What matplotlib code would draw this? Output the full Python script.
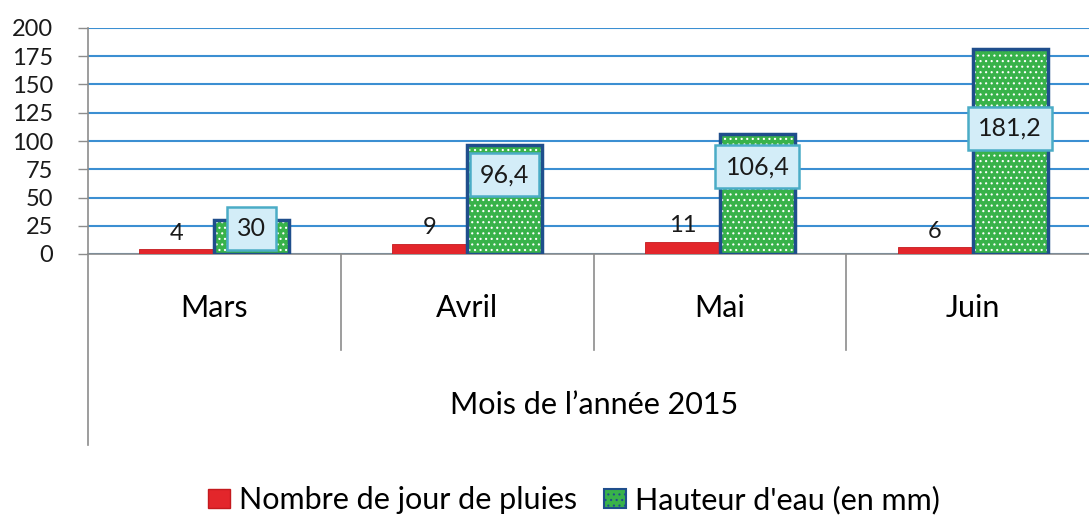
import numpy as np
import matplotlib
matplotlib.use("Agg")
import matplotlib.pyplot as plt
from matplotlib.patches import Patch

# data
months = ["Mars", "Avril", "Mai", "Juin"]
jours_pluie = [4, 9, 11, 6]
hauteur_eau = [30, 96.4, 106.4, 181.2]
hauteur_labels = ["30", "96,4", "106,4", "181,2"]
label_pos = [23, 70, 77, 111]   # where the Excel labels were dragged to
yticks = [0, 25, 50, 75, 100, 125, 150, 175, 200]

plt.rcParams['font.family'] = ['Lato', 'DejaVu Sans']
plt.rcParams['hatch.linewidth'] = 0.8

red = '#e3262b'
green = '#38b24a'
navy = '#1f4e8c'
grid_blue = '#3b8fd2'
grey = '#8c8c8c'

fig = plt.figure(figsize=(10.89, 5.15), dpi=100)
ax = fig.add_axes([88/1089, 1 - 254/515, 1011/1089, 226/515])

x = np.arange(len(months))
w = 0.297

ax.bar(x - w/2, jours_pluie, w, color=red, edgecolor='#c41a1e', lw=0.6, zorder=3)
ax.bar(x + w/2, hauteur_eau, w, color=green, edgecolor='white', hatch='...', lw=0, zorder=3)
ax.bar(x + w/2, hauteur_eau, w, fill=False, edgecolor=navy, lw=2.5, zorder=4)

for i in range(len(months)):
    ax.annotate(str(jours_pluie[i]), (x[i] - w/2, jours_pluie[i]), xytext=(0, 4),
                textcoords='offset points', ha='center', va='bottom',
                fontsize=17, color='#1a1a1a', zorder=5)
    ax.text(x[i] + w/2, label_pos[i], hauteur_labels[i], ha='center', va='center',
            fontsize=18, color='#1a1a1a', zorder=6,
            bbox=dict(boxstyle='square,pad=0.4', facecolor='#d3edf8',
                      edgecolor='#4bacc6', lw=1.8))

ax.set_xlim(-0.5, 3.5)
ax.set_ylim(0, 200)
ax.set_yticks(yticks)
ax.tick_params(axis='y', labelsize=17, length=7, width=1, color=grey, pad=18,
               labelcolor='#1a1a1a')
ax.set_xticks([])
ax.yaxis.grid(True, color=grid_blue, lw=1.5)
ax.set_axisbelow(True)

for s in ['top', 'right', 'left']:
    ax.spines[s].set_visible(False)
ax.spines['bottom'].set_color(grey)
ax.spines['bottom'].set_linewidth(1.2)
ax.spines['bottom'].set_zorder(2.5)

# left axis line running down through the category area
ax.plot([0, 0], [1, -0.845], transform=ax.transAxes, color=grey, lw=1.2, clip_on=False)

# category boxes under the axis
tr = ax.get_xaxis_transform()
for sep in x[:-1] + 0.5:
    ax.plot([sep, sep], [0, -0.425], transform=tr, color=grey, lw=1.2, clip_on=False)
for i, m in enumerate(months):
    ax.text(x[i], -0.24, m, transform=tr, ha='center', va='center', fontsize=22,
            color='black')

fig.text(594/1089, 1 - 405/515, "Mois de l\u2019année 2015", ha='center', va='center',
         fontsize=22, color='black')

handles = [Patch(facecolor=red, edgecolor='#c41a1e'),
           Patch(facecolor=green, edgecolor=navy, hatch='...', lw=1.5)]
fig.legend(handles, ["Nombre de jour de pluies", "Hauteur d'eau (en mm)"],
           loc='center', bbox_to_anchor=(574/1089, 1 - 500/515), ncol=2, frameon=False,
           fontsize=22, handlelength=0.7, handleheight=0.6, handletextpad=0.3,
           columnspacing=0.9, borderpad=0)

fig.savefig("out.png", dpi=100)
